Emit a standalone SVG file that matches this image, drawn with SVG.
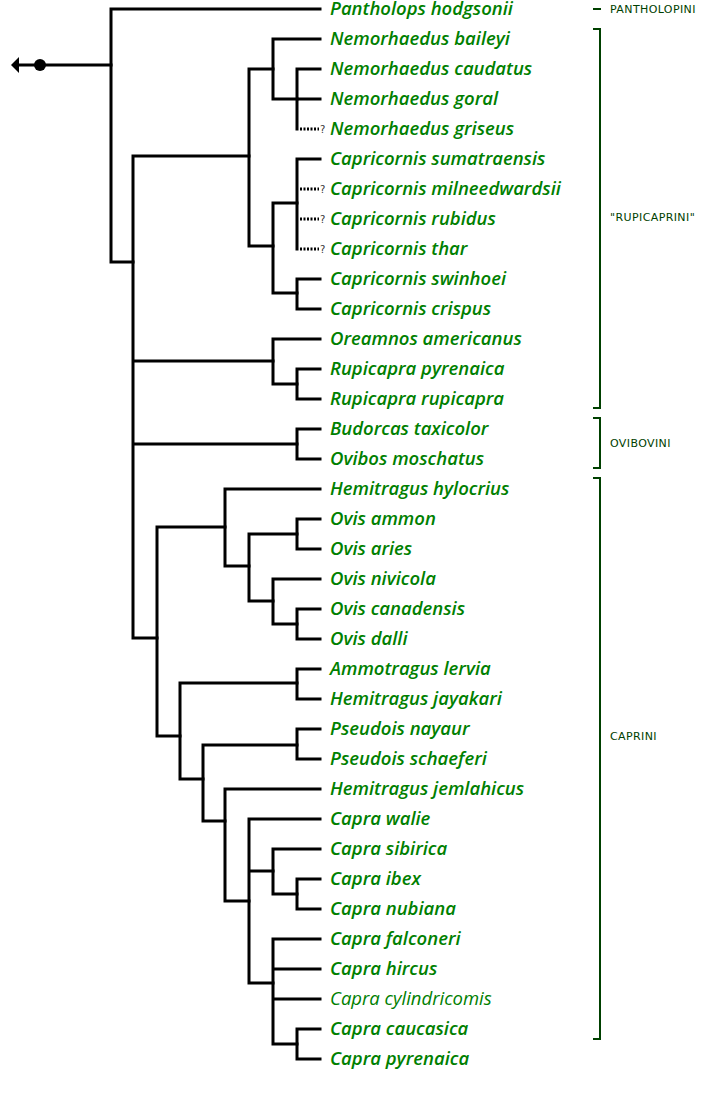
<svg xmlns="http://www.w3.org/2000/svg" width="714" height="1098" viewBox="0 0 714 1098">
<style>
.br{fill:none;stroke:#000;stroke-width:3;stroke-linecap:square}
.dot{fill:none;stroke:#000;stroke-width:3;stroke-dasharray:2 1.5}
.q{font-family:"DejaVu Sans",sans-serif;font-size:10px;fill:#333}
.tx{font-family:"Open Sans",sans-serif;font-style:italic;font-weight:600;font-size:18.5px;fill:#008000}
.tx.lt{font-weight:400}
.bk{fill:none;stroke:#004000;stroke-width:2}
.cl{font-family:"DejaVu Sans",sans-serif;font-size:11px;fill:#004000;letter-spacing:0.4px}
</style>
<defs>
<marker id="arr" markerUnits="userSpaceOnUse" viewBox="0 0 9 16" markerWidth="9" markerHeight="16" refX="2" refY="8" orient="auto-start-reverse">
<path d="M0,0 L8,8 L0,16 Z" fill="#000"/>
</marker>
</defs>
<rect width="714" height="1098" fill="#fff"/>
<g id="connectors">
<path class="br" d="M17,65 H111" marker-start="url(#arr)" stroke-linecap="butt"/>
<circle cx="40" cy="65" r="6" fill="#000"/>
<path class="br" d="M111,9 V262 M111,9 H320 M111,262 H133"/>
<path class="br" d="M133,156 V638 M133,156 H249 M133,361 H273 M133,444 H297 M133,638 H157"/>
<path class="br" d="M249,69 V246 M249,69 H273 M249,246 H273"/>
<path class="br" d="M273,39 V99 M273,39 H320 M273,99 H297"/>
<path class="br" d="M297,69 V129 M297,69 H320 M297,99 H320"/>
<path class="dot" d="M300,129 H319"/>
<path class="br" d="M273,203 V293 M273,203 H297 M273,293 H297"/>
<path class="br" d="M297,159 V249 M297,159 H320"/>
<path class="dot" d="M300,189 H319 M300,219 H319 M300,249 H319"/>
<path class="br" d="M297,279 V309 M297,279 H320 M297,309 H320"/>
<path class="br" d="M273,339 V384 M273,339 H320 M273,384 H297"/>
<path class="br" d="M297,369 V399 M297,369 H320 M297,399 H320"/>
<path class="br" d="M297,429 V459 M297,429 H320 M297,459 H320"/>
<path class="br" d="M157,527 V736 M157,527 H225 M157,736 H180"/>
<path class="br" d="M225,489 V566 M225,489 H320 M225,566 H249"/>
<path class="br" d="M249,534 V601 M249,534 H297 M249,601 H273"/>
<path class="br" d="M297,519 V549 M297,519 H320 M297,549 H320"/>
<path class="br" d="M273,579 V624 M273,579 H320 M273,624 H297"/>
<path class="br" d="M297,609 V639 M297,609 H320 M297,639 H320"/>
<path class="br" d="M180,683 V779 M180,683 H297 M180,779 H203"/>
<path class="br" d="M297,669 V699 M297,669 H320 M297,699 H320"/>
<path class="br" d="M203,745 V821 M203,745 H297 M203,821 H225"/>
<path class="br" d="M297,729 V759 M297,729 H320 M297,759 H320"/>
<path class="br" d="M225,789 V901 M225,789 H320 M225,901 H249"/>
<path class="br" d="M249,819 V983 M249,819 H320 M249,871 H273 M249,983 H273"/>
<path class="br" d="M273,849 V894 M273,849 H320 M273,894 H297"/>
<path class="br" d="M297,879 V909 M297,879 H320 M297,909 H320"/>
<path class="br" d="M273,939 V1044 M273,939 H320 M273,969 H320 M273,999 H320 M273,1044 H297"/>
<path class="br" d="M297,1029 V1059 M297,1029 H320 M297,1059 H320"/>
<text class="q" x="320" y="133">?</text>
<text class="q" x="320" y="193">?</text>
<text class="q" x="320" y="223">?</text>
<text class="q" x="320" y="253">?</text>
</g>
<g id="taxa">
<g id="t01"><text class="tx" x="330" y="15">Pantholops hodgsonii</text></g>
<g id="t02"><text class="tx" x="330" y="45">Nemorhaedus baileyi</text></g>
<g id="t03"><text class="tx" x="330" y="75">Nemorhaedus caudatus</text></g>
<g id="t04"><text class="tx" x="330" y="105">Nemorhaedus goral</text></g>
<g id="t05"><text class="tx" x="330" y="135">Nemorhaedus griseus</text></g>
<g id="t06"><text class="tx" x="330" y="165">Capricornis sumatraensis</text></g>
<g id="t07"><text class="tx" x="330" y="195">Capricornis milneedwardsii</text></g>
<g id="t08"><text class="tx" x="330" y="225">Capricornis rubidus</text></g>
<g id="t09"><text class="tx" x="330" y="255">Capricornis thar</text></g>
<g id="t10"><text class="tx" x="330" y="285">Capricornis swinhoei</text></g>
<g id="t11"><text class="tx" x="330" y="315">Capricornis crispus</text></g>
<g id="t12"><text class="tx" x="330" y="345">Oreamnos americanus</text></g>
<g id="t13"><text class="tx" x="330" y="375">Rupicapra pyrenaica</text></g>
<g id="t14"><text class="tx" x="330" y="405">Rupicapra rupicapra</text></g>
<g id="t15"><text class="tx" x="330" y="435">Budorcas taxicolor</text></g>
<g id="t16"><text class="tx" x="330" y="465">Ovibos moschatus</text></g>
<g id="t17"><text class="tx" x="330" y="495">Hemitragus hylocrius</text></g>
<g id="t18"><text class="tx" x="330" y="525">Ovis ammon</text></g>
<g id="t19"><text class="tx" x="330" y="555">Ovis aries</text></g>
<g id="t20"><text class="tx" x="330" y="585">Ovis nivicola</text></g>
<g id="t21"><text class="tx" x="330" y="615">Ovis canadensis</text></g>
<g id="t22"><text class="tx" x="330" y="645">Ovis dalli</text></g>
<g id="t23"><text class="tx" x="330" y="675">Ammotragus lervia</text></g>
<g id="t24"><text class="tx" x="330" y="705">Hemitragus jayakari</text></g>
<g id="t25"><text class="tx" x="330" y="735">Pseudois nayaur</text></g>
<g id="t26"><text class="tx" x="330" y="765">Pseudois schaeferi</text></g>
<g id="t27"><text class="tx" x="330" y="795">Hemitragus jemlahicus</text></g>
<g id="t28"><text class="tx" x="330" y="825">Capra walie</text></g>
<g id="t29"><text class="tx" x="330" y="855">Capra sibirica</text></g>
<g id="t30"><text class="tx" x="330" y="885">Capra ibex</text></g>
<g id="t31"><text class="tx" x="330" y="915">Capra nubiana</text></g>
<g id="t32"><text class="tx" x="330" y="945">Capra falconeri</text></g>
<g id="t33"><text class="tx" x="330" y="975">Capra hircus</text></g>
<g id="t34"><text class="tx lt" x="330" y="1005">Capra cylindricomis</text></g>
<g id="t35"><text class="tx" x="330" y="1035">Capra caucasica</text></g>
<g id="t36"><text class="tx" x="330" y="1065">Capra pyrenaica</text></g>
</g>
<g id="clades">
<g id="pantholopini"><path class="bk" d="M593,9 H601"/><text class="cl" x="610" y="13">PANTHOLOPINI</text></g>
<g id="rupicaprini"><path class="bk" d="M593,29 H600 V408 H593"/><text class="cl" x="610" y="221">"RUPICAPRINI"</text></g>
<g id="ovibovini"><path class="bk" d="M593,418 H600 V468 H593"/><text class="cl" x="610" y="447">OVIBOVINI</text></g>
<g id="caprini"><path class="bk" d="M593,478 H600 V1039 H593"/><text class="cl" x="610" y="740">CAPRINI</text></g>
</g>
</svg>
